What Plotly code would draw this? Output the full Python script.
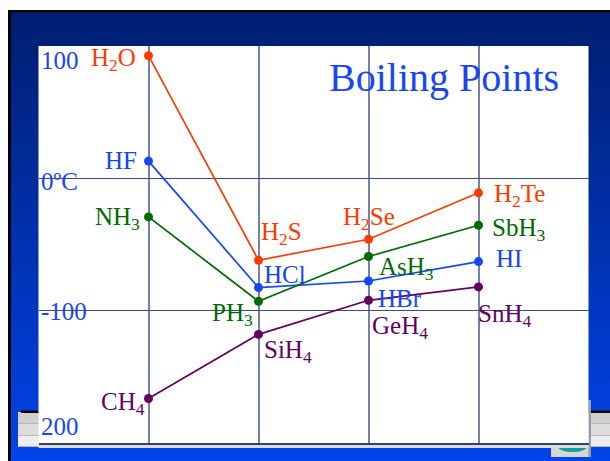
import plotly.graph_objects as go

W, H = 610, 461

# Boiling points (°C) of the hydrides, by period (2..5 -> x = 1..4)
periods = [1, 2, 3, 4]

group16_names = ["H<sub>2</sub>O", "H<sub>2</sub>S", "H<sub>2</sub>Se", "H<sub>2</sub>Te"]
group16_bp = [92.7, -62.1, -46.2, -11.1]

group17_names = ["HF", "HCl", "HBr", "HI"]
group17_bp = [12.9, -82.8, -77.8, -63.1]

group15_names = ["NH<sub>3</sub>", "PH<sub>3</sub>", "AsH<sub>3</sub>", "SbH<sub>3</sub>"]
group15_bp = [-29.3, -93.2, -59.3, -35.6]

group14_names = ["CH<sub>4</sub>", "SiH<sub>4</sub>", "GeH<sub>4</sub>", "SnH<sub>4</sub>"]
group14_bp = [-166.7, -118.2, -92.4, -82.3]

y_tick_vals = [100, 0, -100, -200]
y_tick_text = ["100", "0ºC", "-100", "200"]

title_text = "Boiling Points"

# ---- styling -------------------------------------------------------------
FONT = "Liberation Serif, Times New Roman, serif"
LABEL_SIZE = 25
AXIS_BLUE = "#1746f2"

series = [
    (group16_names, group16_bp, "#ff3a00",
     # (xanchor, xshift, yshift) per point label, in pixels
     [("right", -11, -4), ("left", 0, 27), ("center", 0, 21), ("left", 13, -3)]),
    (group17_names, group17_bp, "#1446f5",
     [("right", -10, 1), ("left", 3, 13), ("left", 7, -18), ("left", 15, 3)]),
    (group15_names, group15_bp, "#006a00",
     [("right", -7, -2), ("right", -4, -13), ("left", 8, -12), ("left", 11, -4)]),
    (group14_names, group14_bp, "#650060",
     [("right", -2, -5), ("left", 3, -17), ("left", 1, -27), ("left", -3, -29)]),
]

X0, X1 = 38.5, 588.5      # white panel, px
Y0, Y1 = 46.0, 442.5


def px_rect(x0, y0, x1, y1, color, line=None):
    return dict(type="rect", xref="paper", yref="paper", layer="below",
                x0=x0 / W, x1=x1 / W, y0=1 - y1 / H, y1=1 - y0 / H,
                fillcolor=color, line=dict(width=0) if line is None else line)


shapes = []
# slide background: vertical navy -> bright blue gradient
top_c, bot_c = (0, 30, 112), (0, 68, 236)
band = 6
y = 12
while y < H:
    t = (y - 12) / (H - 12)
    c = tuple(round(a + (b - a) * t) for a, b in zip(top_c, bot_c))
    shapes.append(px_rect(11, y, W, min(y + band + 1, H), "rgb(%d,%d,%d)" % c))
    y += band
# window frame
shapes.append(px_rect(8, 10, W, 12.5, "#000000"))
shapes.append(px_rect(8, 10, 11, H, "#000000"))
# toolbar strip behind the panel
rows = [(412, 424, "#cfcfcf"), (424, 436, "#dcdcdc"), (436, 447, "#eeeeee")]
for r0, r1, col in rows:
    shapes.append(px_rect(18, r0, W, r1, col))
    shapes.append(px_rect(18, r1 - 1, W, r1, "#b8b8b8"))
shapes.append(px_rect(21, 410.5, 39, 413, "#000000"))
shapes.append(px_rect(590, 410.5, W, 413, "#000000"))
shapes.append(px_rect(551, 445, 590, 457, "#d6d6d6"))
shapes.append(dict(type="circle", xref="paper", yref="paper", layer="below",
                   x0=558 / W, x1=587 / W, y0=1 - 452 / H, y1=1 - 441 / H,
                   fillcolor="#10a0a0", line=dict(width=0)))
shapes.append(px_rect(588.5, 400, 591, 457, "#9a9aa8"))
# white chart panel with a light strip under it
shapes.append(px_rect(X0, 443, X1, 448, "#dcdcdc"))
shapes.append(px_rect(X0, Y0, X1, 443, "#ffffff"))

fig = go.Figure()

annotations = []
for names, vals, color, offs in series:
    fig.add_trace(go.Scatter(
        x=periods, y=vals, mode="lines+markers",
        line=dict(color=color, width=1.7),
        marker=dict(color=color, size=9),
        cliponaxis=False, showlegend=False, hoverinfo="skip"))
    for xv, yv, name, (anc, dx, dy) in zip(periods, vals, names, offs):
        annotations.append(dict(
            x=xv, y=yv, xref="x", yref="y", text=name, showarrow=False,
            xanchor=anc, yanchor="middle", xshift=dx, yshift=dy,
            font=dict(family=FONT, size=LABEL_SIZE, color=color)))

# value labels along the left edge
tick_shift = {100: -14, 0: -3, -100: -1, -200: 16}
for v, txt in zip(y_tick_vals, y_tick_text):
    annotations.append(dict(
        x=0, y=v, xref="x", yref="y", text=txt, showarrow=False,
        xanchor="left", yanchor="middle", xshift=0, yshift=tick_shift[v],
        font=dict(family=FONT, size=LABEL_SIZE, color=AXIS_BLUE)))

annotations.append(dict(
    x=327 / W, y=1 - 77 / H, xref="paper", yref="paper", text=title_text,
    showarrow=False, xanchor="left", yanchor="middle",
    font=dict(family=FONT, size=40, color=AXIS_BLUE)))

fig.update_layout(
    width=W, height=H, margin=dict(l=0, r=0, t=0, b=0),
    paper_bgcolor="#ffffff", plot_bgcolor="rgba(0,0,0,0)",
    shapes=shapes, annotations=annotations,
    xaxis=dict(range=[0, 5], domain=[X0 / W, X1 / W],
               tickvals=periods, showticklabels=False, ticks="",
               showgrid=True, gridcolor="#7382a8", gridwidth=1.5,
               zeroline=False, showline=True, linecolor="#34406e",
               linewidth=1.5, fixedrange=True),
    yaxis=dict(range=[-200, 100], domain=[1 - Y1 / H, 1 - Y0 / H],
               tickvals=[0, -100], showticklabels=False, ticks="",
               showgrid=True, gridcolor="#3e4a7e", gridwidth=1.3,
               zeroline=False, showline=False, fixedrange=True),
)

fig.write_html("out.html")
